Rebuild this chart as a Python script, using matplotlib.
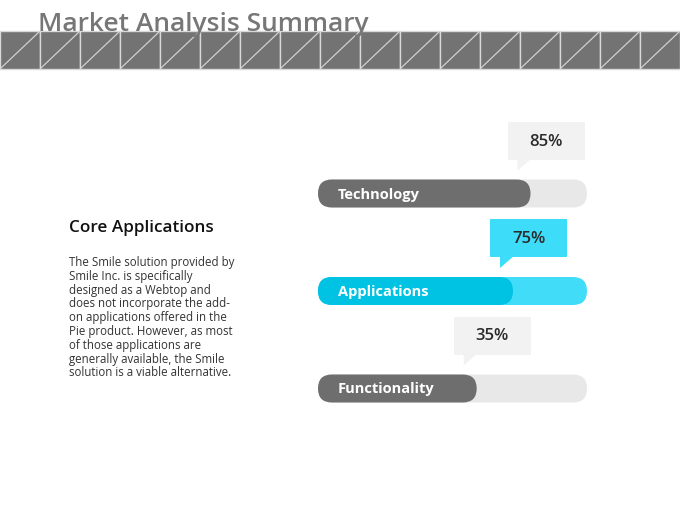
import matplotlib.pyplot as plt
from matplotlib.patches import FancyBboxPatch, Rectangle, Polygon

# chart data
categories = ['Technology', 'Applications', 'Functionality']
pct_labels = ['85%', '75%', '35%']
fill_values = [79, 72.5, 59]          # drawn fill length (% of track)
highlight = [False, True, False]

title = 'Market Analysis Summary'
side_title = 'Core Applications'
side_text = ('The Smile solution provided by\nSmile Inc. is specifically\n'
             'designed as a Webtop and\ndoes not incorporate the add-\n'
             'on applications offered in the\nPie product. However, as most\n'
             'of those applications are\ngenerally available, the Smile\n'
             'solution is a viable alternative.')

W, H = 680, 510
fig = plt.figure(figsize=(W / 100, H / 100), dpi=100)
fig.patch.set_facecolor('white')
plt.rcParams['font.family'] = ['Open Sans', 'DejaVu Sans']

# background axes in pixel coords for the decoration
bg = fig.add_axes([0, 0, 1, 1])
bg.set_xlim(0, W)
bg.set_ylim(H, 0)
bg.axis('off')

# banner of diagonal squares
n_sq = 17
sq_w = W / n_sq
for i in range(n_sq):
    x0 = i * sq_w
    bg.add_patch(Rectangle((x0, 32), sq_w, 38, facecolor='#737373',
                           edgecolor='#d9d9d9', lw=1.0, zorder=1))
    bg.plot([x0 + 1, x0 + sq_w - 1], [69, 33], color='#d0d0d0', lw=0.9, zorder=2)

bg.text(38, 31, title, fontsize=19, fontweight='semibold', color='#777777',
        ha='left', va='baseline', zorder=3)

bg.text(69, 228, side_title, fontsize=12.3, fontweight='semibold', color='#111111',
        ha='left', va='center')
bg.text(69, 256, side_text, fontsize=8.3, color='#333333', ha='left', va='top',
        linespacing=1.08)

# bar axes: 0-100 spans the track, equal px per unit on both axes
left_px, right_px = 318, 587
top_px, bot_px = 110, 420
ppu = (right_px - left_px) / 100.0
ax = fig.add_axes([left_px / W, 1 - bot_px / H, (right_px - left_px) / W, (bot_px - top_px) / H])
ax.set_xlim(0, 100)
ax.set_ylim((bot_px - top_px) / ppu, 0)
ax.axis('off')

bar_h = 28 / ppu
rad = bar_h / 2
first_y = 84.5 / ppu
spacing = 97.5 / ppu
box_w = 77 / ppu
box_h = 38 / ppu
gap = 20 / ppu
ptr_w = 13 / ppu
ptr_h = 11 / ppu

for i, (cat, lab, val, hl) in enumerate(zip(categories, pct_labels, fill_values, highlight)):
    yc = first_y + i * spacing
    track_c = '#40dcf8' if hl else '#e8e8e8'
    fill_c = '#00c2e2' if hl else '#6e6e6e'
    box_c = '#3ddcf8' if hl else '#f2f2f2'
    ax.add_patch(FancyBboxPatch((rad, yc), 100 - 2 * rad, 0,
                                boxstyle=f'round,pad={rad}', fc=track_c, ec='none', zorder=1))
    ax.add_patch(FancyBboxPatch((rad, yc), val - 2 * rad, 0,
                                boxstyle=f'round,pad={rad}', fc=fill_c, ec='none', zorder=2))
    ax.text(20 / ppu, yc, cat, color='white', fontsize=10.5, fontweight='bold',
            ha='left', va='center', zorder=3)

    # callout
    b_bottom = yc - rad - gap
    bx = val - 23 / ppu
    ax.add_patch(Rectangle((bx, b_bottom - box_h), box_w, box_h, fc=box_c, ec='none', zorder=1))
    ax.add_patch(Polygon([(val - ptr_w, b_bottom - 0.1), (val, b_bottom - 0.1),
                          (val - ptr_w, b_bottom + ptr_h)], closed=True,
                         fc=box_c, ec='none', zorder=1))
    ax.text(bx + box_w / 2, b_bottom - box_h / 2, lab, color='#2b2b2b', fontsize=12,
            fontweight='semibold', ha='center', va='center', zorder=3)

fig.savefig('out.png', dpi=100, facecolor='white')
